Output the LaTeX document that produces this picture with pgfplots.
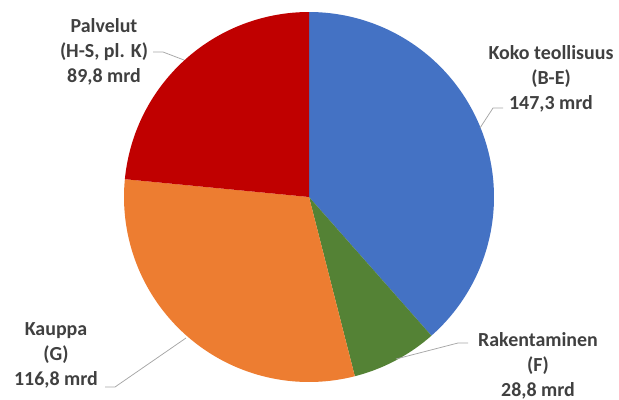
\documentclass[border=0pt]{standalone}
\usepackage{pgfplots}
\usepackage{pgfplotstable}
\pgfplotsset{compat=1.18}
\usepackage{fontspec}
\setmainfont{Carlito}
\definecolor{cblue}{HTML}{4472C4}
\definecolor{cgreen}{HTML}{548235}
\definecolor{corange}{HTML}{ED7D31}
\definecolor{cred}{HTML}{C00000}
\definecolor{ctext}{HTML}{404040}
\definecolor{cline}{HTML}{A6A6A6}

\pgfplotstableread{
sector value
1 147.3
2 28.8
3 116.8
4 89.8
}\piedata

\begin{document}
\begin{tikzpicture}
\pgfplotstablegetelem{0}{value}\of\piedata \let\vA\pgfplotsretval
\pgfplotstablegetelem{1}{value}\of\piedata \let\vB\pgfplotsretval
\pgfplotstablegetelem{2}{value}\of\piedata \let\vC\pgfplotsretval
\pgfplotstablegetelem{3}{value}\of\piedata \let\vD\pgfplotsretval
\pgfmathsetmacro\tot{\vA+\vB+\vC+\vD}
\pgfmathsetmacro\aA{90}
\pgfmathsetmacro\aB{90-360*(\vA/\tot)}
\pgfmathsetmacro\aC{\aB-360*(\vB/\tot)}
\pgfmathsetmacro\aD{\aC-360*(\vC/\tot)}
\pgfmathsetmacro\aE{\aD-360*(\vD/\tot)}
\begin{axis}[scale only axis, width=619bp, height=400bp,
  xmin=0, xmax=619, ymin=0, ymax=400, hide axis, clip=false]
\addplot[fill=cblue, draw=none, domain=\aB:\aA, samples=140, variable=\t]
  ({309+185*cos(\t)},{203+185*sin(\t)}) -- (axis cs:309,203) -- cycle;
\addplot[fill=cgreen, draw=none, domain=\aC:\aB, samples=40, variable=\t]
  ({309+185*cos(\t)},{203+185*sin(\t)}) -- (axis cs:309,203) -- cycle;
\addplot[fill=corange, draw=none, domain=\aD:\aC, samples=120, variable=\t]
  ({309+185*cos(\t)},{203+185*sin(\t)}) -- (axis cs:309,203) -- cycle;
\addplot[fill=cred, draw=none, domain=\aE:\aD, samples=100, variable=\t]
  ({309+185*cos(\t)},{203+185*sin(\t)}) -- (axis cs:309,203) -- cycle;

\draw[cline, line width=0.75bp] (axis cs:503,292) -- (axis cs:493,292) -- (axis cs:480,272);
\draw[cline, line width=0.75bp] (axis cs:468,57) -- (axis cs:458,57) -- (axis cs:396,41);
\draw[cline, line width=0.75bp] (axis cs:105,13) -- (axis cs:115,13) -- (axis cs:186,62);
\draw[cline, line width=0.75bp] (axis cs:153,348) -- (axis cs:163,348) -- (axis cs:184,340);

\tikzset{lab/.style={align=center, text=ctext, inner sep=0pt,
  font=\bfseries\fontsize{20}{25}\selectfont}}
\node[lab] at (axis cs:551,321) {Koko teollisuus\\(B-E)\\147,3 mrd};
\node[lab] at (axis cs:538,34) {Rakentaminen\\(F)\\28,8 mrd};
\node[lab] at (axis cs:56,45) {Kauppa\\(G)\\116,8 mrd};
\node[lab] at (axis cs:104,348) {Palvelut\\(H-S, pl. K)\\89,8 mrd};
\end{axis}
\pgfresetboundingbox
\path (current axis.south west) rectangle (current axis.north east);
\end{tikzpicture}
\end{document}
